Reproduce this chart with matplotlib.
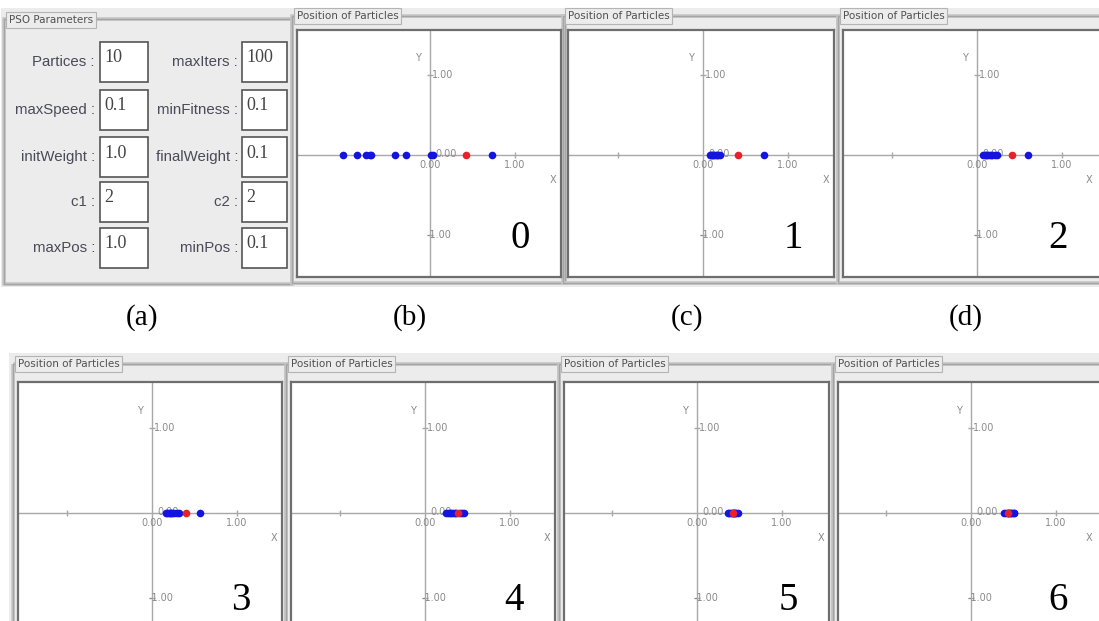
import matplotlib.pyplot as plt
from matplotlib.patches import Rectangle

W, H = 1099, 621

# PSO parameter panel
params_left = ["Partices :", "maxSpeed :", "initWeight :", "c1 :", "maxPos :"]
values_left = ["10", "0.1", "1.0", "2", "1.0"]
params_right = ["maxIters :", "minFitness :", "finalWeight :", "c2 :", "minPos :"]
values_right = ["100", "0.1", "0.1", "2", "0.1"]

# particle x positions per iteration (all particles sit on y = 0)
iterations = [0, 1, 2, 3, 4, 5, 6]
particles = [
    [-1.02, -0.86, -0.75, -0.71, -0.69, -0.41, -0.28, 0.01, 0.04, 0.73],
    [0.08, 0.10, 0.11, 0.12, 0.13, 0.15, 0.16, 0.18, 0.20, 0.72],
    [0.07, 0.09, 0.11, 0.12, 0.14, 0.16, 0.18, 0.21, 0.24, 0.60],
    [0.16, 0.18, 0.20, 0.21, 0.22, 0.24, 0.26, 0.29, 0.32, 0.56],
    [0.25, 0.27, 0.29, 0.31, 0.33, 0.35, 0.37, 0.41, 0.43, 0.46],
    [0.36, 0.38, 0.40, 0.41, 0.42, 0.43, 0.44, 0.45, 0.46, 0.48],
    [0.39, 0.41, 0.43, 0.44, 0.45, 0.46, 0.47, 0.48, 0.50, 0.51],
]
best = [0.42, 0.41, 0.41, 0.40, 0.39, 0.42, 0.43]
particle_y = 0.0
sub_labels = ["(a)", "(b)", "(c)", "(d)"]
sub_label_x = [142, 410, 687, 966]

# inner plot boxes in pixels: left, top, right, bottom, origin x, origin y, px/unit y
boxes = [
    (297, 30, 561, 277, 430, 155, 80),
    (568, 30, 834, 277, 703, 155, 80),
    (843, 30, 1108, 277, 977, 155, 80),
    (18, 382, 282, 644, 152, 513, 85),
    (291, 382, 555, 644, 425, 513, 85),
    (564, 382, 829, 644, 697, 513, 85),
    (838, 382, 1102, 644, 971, 513, 85),
]
px_unit_x = 85

panel_bg = "#ececec"
frame_col = "#a4a4a4"
axis_col = "#a8a8a8"
txt_col = "#8a8a8a"
narrow = ["Liberation Sans Narrow", "DejaVu Sans Condensed", "Liberation Sans"]

fig = plt.figure(figsize=(W / 100, H / 100), dpi=100)
bg = fig.add_axes([0, 0, 1, 1])
bg.set_xlim(0, W)
bg.set_ylim(H, 0)
bg.axis("off")

# grey window backgrounds
bg.add_patch(Rectangle((1, 8), W, 279, fc=panel_bg, ec="none"))
bg.add_patch(Rectangle((9, 353), W, 270, fc=panel_bg, ec="none"))


def frame(l, t, r, b, title, ty):
    bg.add_patch(Rectangle((l, t), r - l, b - t, fc="none", ec="#c6c6c6", lw=2.6))
    bg.add_patch(Rectangle((l, t), r - l, b - t, fc="none", ec=frame_col, lw=1.0))
    bg.text(l + 5, ty, title, ha="left", va="center", fontsize=7.5, color="#505050",
            bbox=dict(boxstyle="square,pad=0.25", fc=panel_bg, ec="#b4b4b4", lw=0.8))


# parameter panel
frame(4, 19, 292, 284, "PSO Parameters", 20)
row_y = [62, 110, 157, 202, 248]
for i, yy in enumerate(row_y):
    for lab, val, lx, bx, bw in [(params_left[i], values_left[i], 95, 100, 48),
                                 (params_right[i], values_right[i], 238, 242, 45)]:
        bg.text(lx, yy, lab, ha="right", va="center", fontsize=10.8,
                color="#4a4a58", family=narrow)
        bg.add_patch(Rectangle((bx, yy - 20), bw, 40, fc="white", ec="#555555", lw=1.2))
        bg.text(bx + 4, yy - 4, val, ha="left", va="center", fontsize=13,
                color="#444444", family="Liberation Serif")

for lab, x in zip(sub_labels, sub_label_x):
    bg.text(x, 318, lab, ha="center", va="center", fontsize=21,
            family="Liberation Serif", color="black")

for k, (l, t, r, b, ox, oy, syu) in enumerate(boxes):
    top_row = t < 100
    ty = 16 if top_row else 364
    frame(l - 5, ty, r + 4, b + 6, "Position of Particles", ty)

    ax = fig.add_axes([l / W, 1 - b / H, (r - l) / W, (b - t) / H])
    ax.set_xlim((l - ox) / px_unit_x, (r - ox) / px_unit_x)
    ax.set_ylim((oy - b) / syu, (oy - t) / syu)
    ax.set_facecolor("white")
    ax.set_xticks([])
    ax.set_yticks([])
    for sp in ax.spines.values():
        sp.set_color("#6e6e6e")
        sp.set_linewidth(1.6)

    ax.axhline(0, color=axis_col, lw=1.0, zorder=1)
    ax.axvline(0, color=axis_col, lw=1.0, zorder=1)
    ax.plot([-1, 1], [0, 0], ls="none", marker="|", ms=4, color=axis_col, zorder=1)
    ax.plot([0, 0], [-1, 1], ls="none", marker="_", ms=4, color=axis_col, zorder=1)

    def lbl(x, y, s, dx, dy, ha="left", **kw):
        ax.annotate(s, xy=(x, y), xytext=(dx, dy), textcoords="offset pixels",
                    ha=ha, va="center", fontsize=7, color=txt_col, zorder=2, **kw)

    lbl(0, 1, "1.00", 2, 0)
    lbl(0, -1, "-1.00", -3, 0)
    lbl(0, 0, "0.00", 5, 1)
    lbl(0, 0, "0.00", 0, -10, ha="center")
    lbl(1, 0, "1.00", 0, -10, ha="center")
    lbl(0, 1, "Y", -12, 17, ha="center")
    # keep the X label inside the picture when the box runs past its right edge
    x_shift = -8 - max(0, r - W + 2)
    ax.annotate("X", xy=(1, 0), xycoords=("axes fraction", "data"), xytext=(x_shift, -25),
                textcoords="offset pixels", ha="center", va="center",
                fontsize=7, color=txt_col)

    xs = particles[k]
    ax.plot(xs, [particle_y] * len(xs), "o", ms=5.5, color="#1414e0", mec="none", zorder=3)
    ax.plot([best[k]], [particle_y], "o", ms=5.5, color="#e8202a", mec="none", zorder=4)

    ax.annotate(str(iterations[k]), xy=(1, 0), xycoords="axes fraction",
                xytext=(-41 - max(0, r - W), 38 if top_row else 43),
                textcoords="offset pixels",
                ha="center", va="center", fontsize=28, family="Liberation Serif",
                color="black", annotation_clip=False)

fig.savefig("out.png", dpi=100, facecolor="white")
